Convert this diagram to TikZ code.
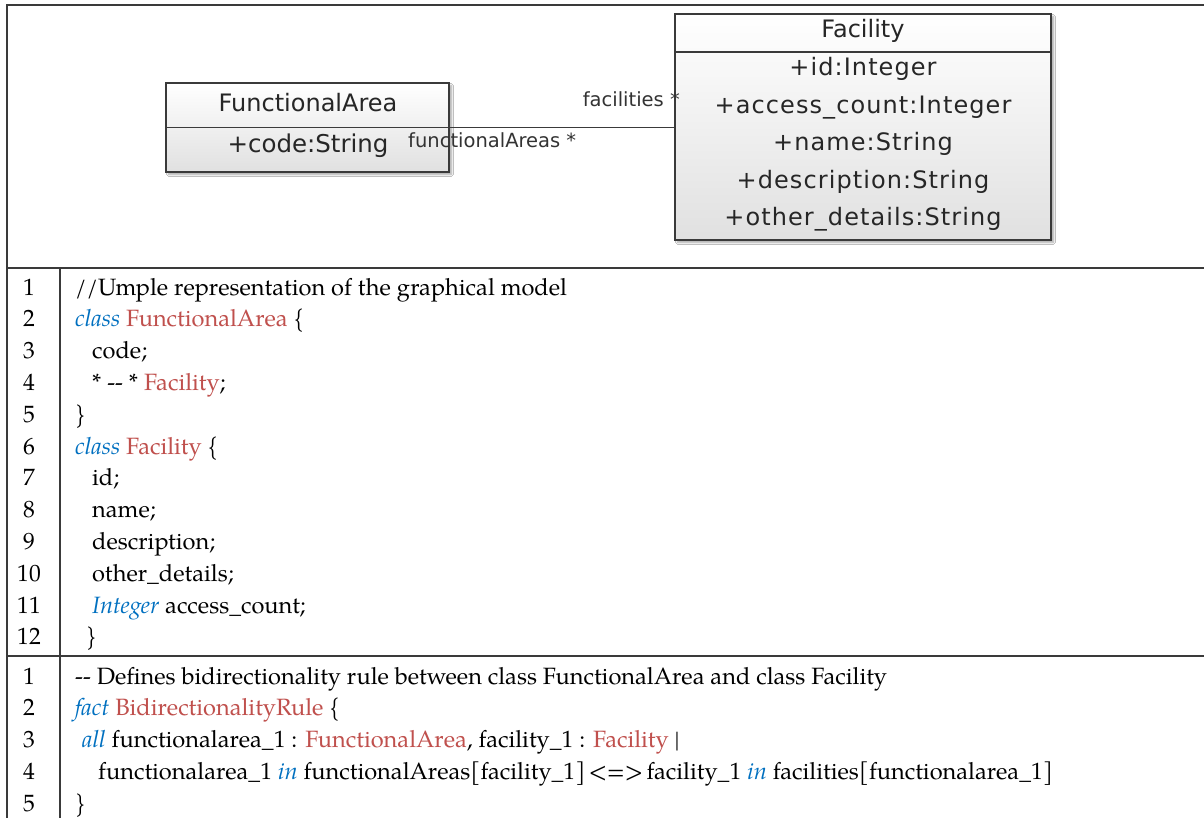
\documentclass[tikz,border=0pt]{standalone}
\usepackage{fontspec}
\setmainfont{TeX Gyre Pagella}
\newfontfamily\umlfont[LetterSpace=4.5]{DejaVu Sans}
\newfontfamily\umlheadfont{DejaVu Sans}
\usetikzlibrary{shadows.blur}
\definecolor{kwblue}{HTML}{0070C0}
\definecolor{clsred}{HTML}{C0504D}
\definecolor{rulegray}{HTML}{3A3A3A}
\newcommand{\kw}[1]{\textcolor{kwblue}{\textit{#1}}}
\newcommand{\cls}[1]{\textcolor{clsred}{#1}}
\tikzset{
  classbox/.style={draw=rulegray, line width=1.6pt, inner sep=0pt,
    top color=white, bottom color=black!12,
    blur shadow={shadow xshift=2.5pt, shadow yshift=-2.5pt, shadow blur steps=6, shadow opacity=35}},
  umltext/.style={font=\umlfont\fontsize{24}{28}\selectfont, anchor=base, inner sep=0pt, text=black!85},
  umlhead/.style={font=\umlheadfont\fontsize{24}{28}\selectfont, anchor=base, inner sep=0pt, text=black!85},
  rolelabel/.style={font=\umlheadfont\fontsize{19.5}{23}\selectfont, anchor=base, inner sep=0pt, text=black!80},
  codeline/.style={font=\fontsize{23.6}{28}\selectfont, anchor=base west, inner sep=0pt},
  lineno/.style={font=\fontsize{23.6}{28}\selectfont, anchor=base, inner sep=0pt},
  tablerule/.style={draw=rulegray, line width=1.3pt},
  assoc/.style={draw=rulegray, line width=1.6pt}
}
\begin{document}
\begin{tikzpicture}[x=1pt,y=-1pt]
\useasboundingbox (0,0) rectangle (1204,818);
\fill[white] (0,0) rectangle (1204,818);

% table frame
\draw[tablerule] (7,818) -- (7,5) -- (1204,5);
\draw[tablerule] (7,268) -- (1204,268);
\draw[tablerule] (7,656) -- (1204,656);
\draw[tablerule] (60,268) -- (60,818);

% class FunctionalArea
\node[classbox, minimum width=283pt, minimum height=89pt] (fa) at (307.5,127.5) {};
\draw[assoc] (166,127.5) -- (449,127.5);
\node[umlhead] (faname) at (308,112) {FunctionalArea};
\node[umltext, font=\umlheadfont\fontsize{24.5}{28}\selectfont] (facode) at (308,153) {+code:String};

% class Facility
\node[classbox, minimum width=376pt, minimum height=226pt] (fac) at (863,127) {};
\draw[assoc] (675,52) -- (1051,52);
\node[umlhead] (facname) at (863,38) {Facility};
\node[umltext] (facid) at (863,76) {+id:Integer};
\node[umltext] (facacc) at (863,114) {+access\_count:Integer};
\node[umltext] (facnm) at (863,151) {+name:String};
\node[umltext] (facdesc) at (863,189) {+description:String};
\node[umltext] (facoth) at (863,226) {+other\_details:String};

% association with role names
\draw[assoc] (fa.east) -- (fa.east -| fac.west);
\node[rolelabel, anchor=base east] (rolefac) at (680,107) {facilities *};
\node[rolelabel, anchor=base west] (rolefa) at (408,148) {functionalAreas *};

% first listing
\foreach \n in {1,...,12} {
  \node[lineno] (na\n) at (29,{295+(\n-1)*31.8}) {\n};
}
\node[codeline] (a1) at (75,295) {//Umple representation of the graphical model};
\node[codeline] (a2) at (75,326.8) {\kw{class} \cls{FunctionalArea} \{};
\node[codeline] (a3) at (92,358.6) {code;};
\node[codeline] (a4) at (92,390.4) {* -{}- * \cls{Facility};};
\node[codeline] (a5) at (75,422.2) {\}};
\node[codeline] (a6) at (75,454) {\kw{class} \cls{Facility} \{};
\node[codeline] (a7) at (92,485.8) {id;};
\node[codeline] (a8) at (92,517.6) {name;};
\node[codeline] (a9) at (92,549.4) {description;};
\node[codeline] (a10) at (92,581.2) {other\_details;};
\node[codeline] (a11) at (92,613) {\kw{Integer} access\_count;};
\node[codeline] (a12) at (86,644.8) {\}};

% second listing
\foreach \n in {1,...,5} {
  \node[lineno] (nb\n) at (29,{684+(\n-1)*31.8}) {\n};
}
\node[codeline] (b1) at (75,684) {-{}- Defines bidirectionality rule between class FunctionalArea and class Facility};
\node[codeline] (b2) at (75,715.8) {\kw{fact} \cls{BidirectionalityRule} \{};
\node[codeline] (b3) at (82,747.6) {\kw{all} functionalarea\_1 : \cls{FunctionalArea}, facility\_1 : \cls{Facility} |};
\node[codeline] (b4) at (98,779.4) {functionalarea\_1 \kw{in} functionalAreas[facility\_1]\hspace{0.15em}<=>\hspace{0.15em}facility\_1 \kw{in} facilities[functionalarea\_1]};
\node[codeline] (b5) at (75,811.2) {\}};
\end{tikzpicture}
\end{document}
